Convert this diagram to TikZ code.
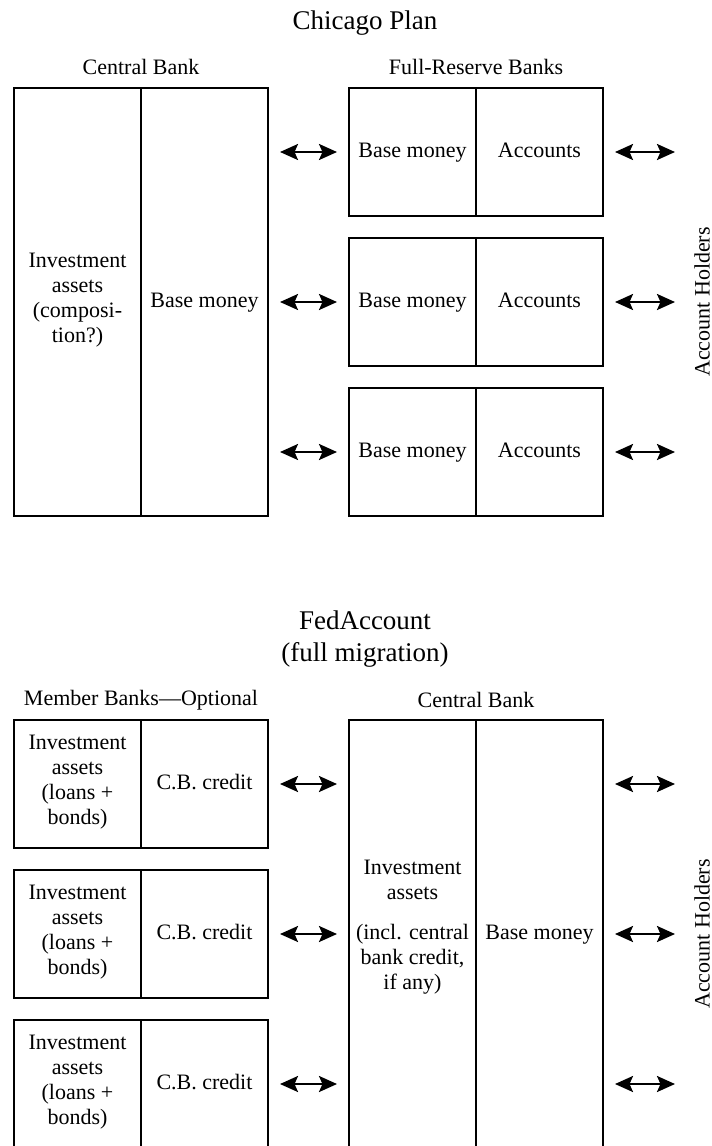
\documentclass[tikz,border=0pt]{standalone}
\usepackage{fontspec}
\setmainfont{Liberation Serif}
\usetikzlibrary{arrows.meta}

\begin{document}
\begin{tikzpicture}[x=1pt,y=-1pt,
  half/.style={draw,line width=2pt,inner sep=0pt,minimum width=127pt,
    align=center,font=\fontsize{22}{25}\selectfont,execute at begin node=\strut},
  txt/.style={align=center,font=\fontsize{22}{25}\selectfont},
  lbl/.style={font=\fontsize{22}{25}\selectfont},
  ttl/.style={align=center,font=\fontsize{27}{32}\selectfont},
  flow/.style={{Stealth[length=18pt,width=16pt,inset=3.5pt]}-{Stealth[length=18pt,width=16pt,inset=3.5pt]},
    line width=2.4pt,shorten <=11pt,shorten >=11pt}]

\newcommand\TALL{428pt}
\newcommand\SHORT{128pt}

  \useasboundingbox (0,0) rectangle (712,1146);
  \clip (0,0) rectangle (712,1146);

  %% chicago plan
  \node[ttl] (plan) at (365,23) {Chicago Plan};
  \node[lbl] (cbhead) at (141,67) {Central Bank};
  \node[lbl] (frhead) at (476,67) {Full-Reserve Banks};

  %% central bank
  \node[half,minimum height=\TALL] (cbinv) at (77.5,302)
    {Investment\\assets\\(composi-\\tion?)};
  \node[half,minimum height=\TALL] (cbbase) at (204.5,302) {Base money};

  %% full-reserve banks
  \node[half,minimum height=\SHORT] (frbase1) at (412.5,152) {Base money};
  \node[half,minimum height=\SHORT] (fracc1) at (539.5,152) {Accounts};
  \node[half,minimum height=\SHORT] (frbase2) at (412.5,302) {Base money};
  \node[half,minimum height=\SHORT] (fracc2) at (539.5,302) {Accounts};
  \node[half,minimum height=\SHORT] (frbase3) at (412.5,452) {Base money};
  \node[half,minimum height=\SHORT] (fracc3) at (539.5,452) {Accounts};

  %% account holders
  \node[lbl,rotate=90] (holders) at (702,302) {Account Holders};
  \coordinate (hold1) at (686,152);
  \coordinate (hold2) at (686,302);
  \coordinate (hold3) at (686,452);

  %% central bank to banks
  \draw[flow] (cbbase.east |- frbase1.west) -- (frbase1.west);
  \draw[flow] (cbbase.east |- frbase2.west) -- (frbase2.west);
  \draw[flow] (cbbase.east |- frbase3.west) -- (frbase3.west);

  %% banks to holders
  \draw[flow] (fracc1.east) -- (hold1);
  \draw[flow] (fracc2.east) -- (hold2);
  \draw[flow] (fracc3.east) -- (hold3);

  %% fedaccount
  \node[ttl] (fed) at (365,639) {FedAccount\\(full migration)};
  \node[lbl] (mbhead) at (141,700) {Member Banks---Optional};
  \node[lbl] (cbhead2) at (476,700) {Central Bank};

  %% member banks
  \node[half,minimum height=\SHORT] (mbinv1) at (77.5,784)
    {Investment\\assets\\(loans +\\bonds)};
  \node[half,minimum height=\SHORT] (mbcred1) at (204.5,784) {C.B. credit};
  \node[half,minimum height=\SHORT] (mbinv2) at (77.5,934)
    {Investment\\assets\\(loans +\\bonds)};
  \node[half,minimum height=\SHORT] (mbcred2) at (204.5,934) {C.B. credit};
  \node[half,minimum height=\SHORT] (mbinv3) at (77.5,1084)
    {Investment\\assets\\(loans +\\bonds)};
  \node[half,minimum height=\SHORT] (mbcred3) at (204.5,1084) {C.B. credit};

  %% central bank
  \node[half,minimum height=\TALL] (fedinv) at (412.5,934) {};
  \node[txt] (fedinvtext) at (412.5,927)
    {Investment\\assets\\[15pt](incl. central\\bank credit,\\if any)};
  \node[half,minimum height=\TALL] (fedbase) at (539.5,934) {Base money};

  %% account holders
  \node[lbl,rotate=90] (holders2) at (702,934) {Account Holders};
  \coordinate (fhold1) at (686,784);
  \coordinate (fhold2) at (686,934);
  \coordinate (fhold3) at (686,1084);

  %% member banks to central bank
  \draw[flow] (mbcred1.east) -- (mbcred1.east -| fedinv.west);
  \draw[flow] (mbcred2.east) -- (mbcred2.east -| fedinv.west);
  \draw[flow] (mbcred3.east) -- (mbcred3.east -| fedinv.west);

  %% central bank to holders
  \draw[flow] (fedbase.east |- fhold1) -- (fhold1);
  \draw[flow] (fedbase.east |- fhold2) -- (fhold2);
  \draw[flow] (fedbase.east |- fhold3) -- (fhold3);

\end{tikzpicture}
\end{document}
